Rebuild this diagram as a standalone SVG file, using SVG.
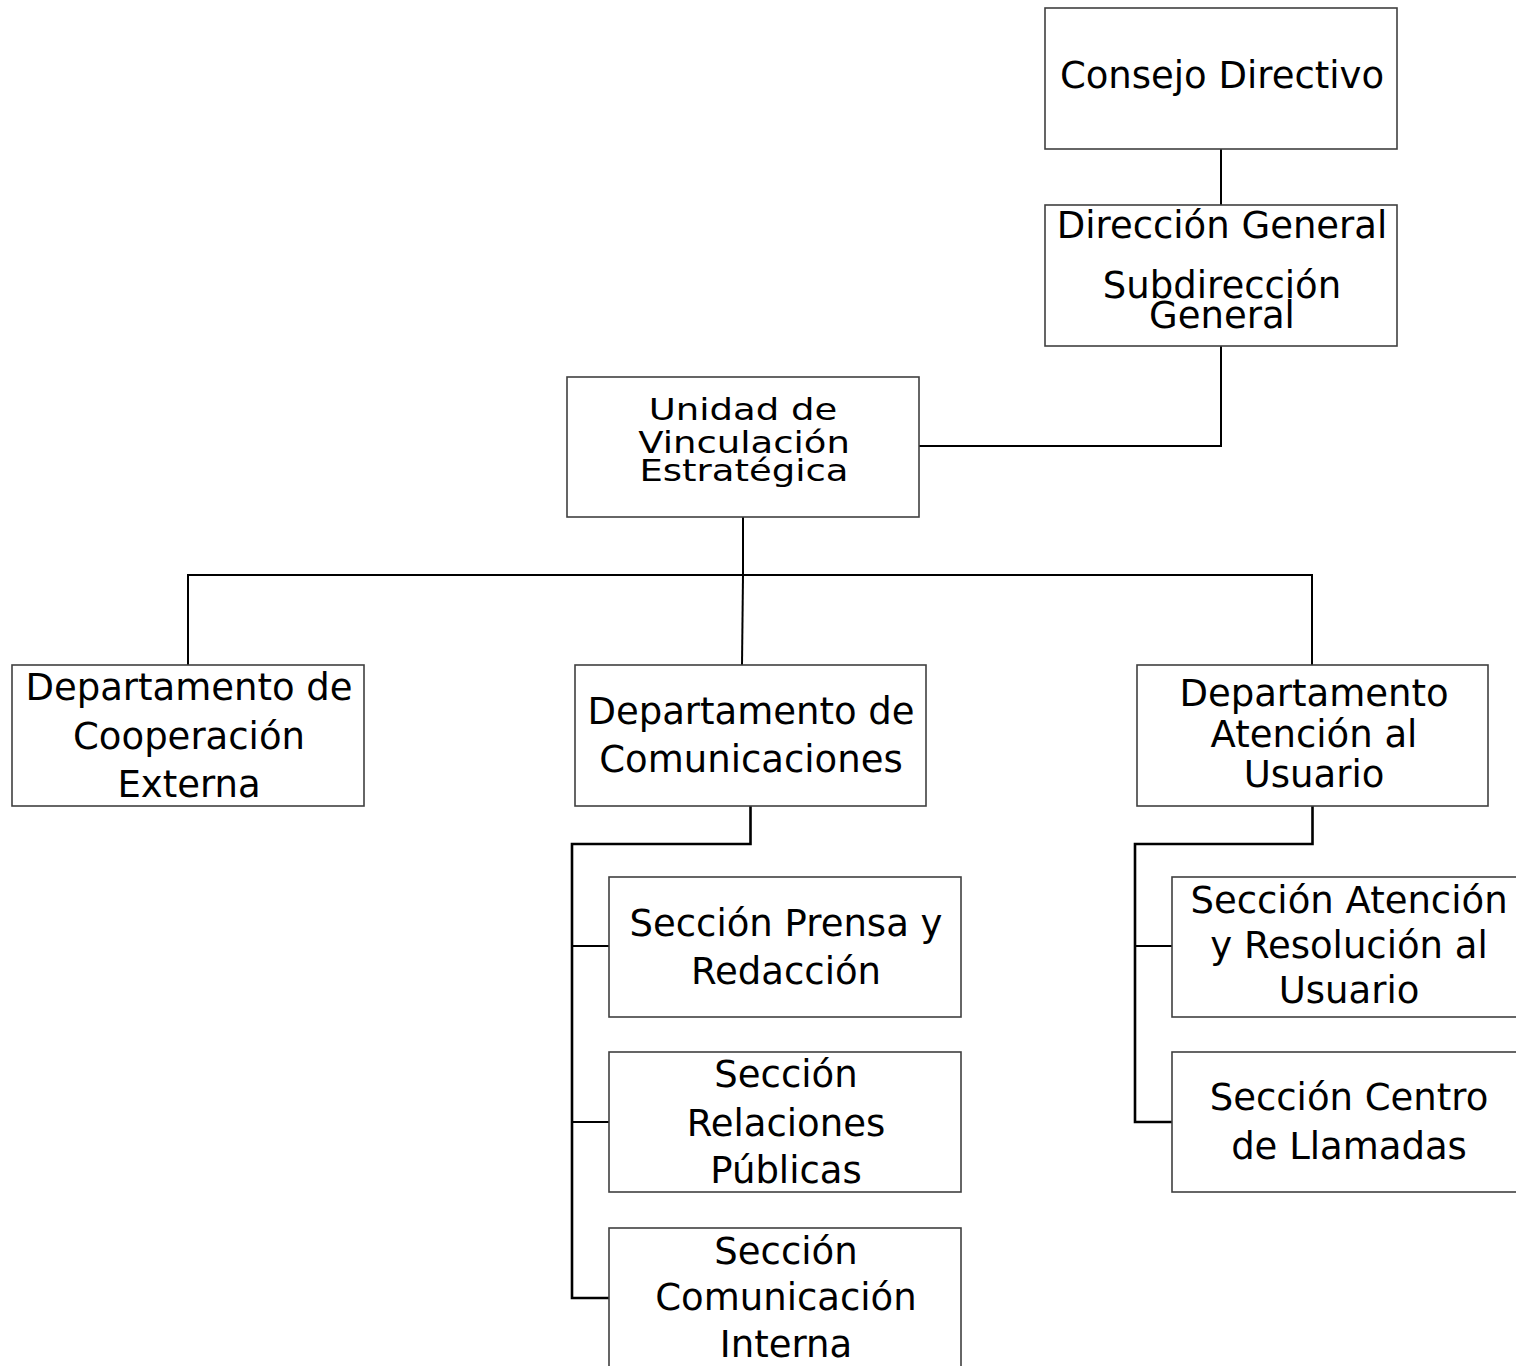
<svg xmlns="http://www.w3.org/2000/svg" width="1516" height="1366" viewBox="0 0 1516 1366">
<style>
  .box { fill: #ffffff; stroke: #404040; stroke-width: 1.6; }
  .t { font-family: "DejaVu Sans", "Liberation Sans", sans-serif; font-size: 37px; fill: #000000; text-anchor: middle; }
  .c { fill: none; stroke: #000000; stroke-width: 2; }
  .c2 { fill: none; stroke: #000000; stroke-width: 2.6; }
</style>
<rect width="1516" height="1366" fill="#ffffff"/>
<g id="connectors">
  <path class="c" d="M1221,149 V205"/>
  <path class="c" d="M1221,346 V446 H919"/>
  <path class="c" d="M743,517 V575"/>
  <path class="c" d="M188,665 V575 H1312 V665"/>
  <path class="c" d="M743,575 L742,665"/>
  <path class="c2" d="M750.5,806 V844 H572 V1298 H609"/>
  <path class="c" d="M572,946 H609"/>
  <path class="c" d="M572,1122 H609"/>
  <path class="c2" d="M1312.5,806 V844 H1135 V1122 H1172"/>
  <path class="c" d="M1135,946 H1172"/>
</g>
<g id="consejo">
  <rect class="box" x="1045" y="8" width="352" height="141"/>
  <text class="t" x="1222" y="88">Consejo Directivo</text>
</g>
<g id="direccion">
  <rect class="box" x="1045" y="205" width="352" height="141"/>
  <text class="t" x="1222" y="238">Dirección General</text>
  <text class="t" x="1222" y="298">Subdirección</text>
  <text class="t" x="1222" y="328">General</text>
</g>
<g id="unidad">
  <rect class="box" x="567" y="377" width="352" height="140"/>
  <text class="t" transform="translate(743,420) scale(1,0.8)" x="0" y="0">Unidad de</text>
  <text class="t" transform="translate(744,453) scale(1,0.8)" x="0" y="0">Vinculación</text>
  <text class="t" transform="translate(744,481) scale(1,0.8)" x="0" y="0">Estratégica</text>
</g>
<g id="dept-cooperacion">
  <rect class="box" x="12" y="665" width="352" height="141"/>
  <text class="t" x="189" y="700">Departamento de</text>
  <text class="t" x="189" y="749">Cooperación</text>
  <text class="t" x="189" y="797">Externa</text>
</g>
<g id="dept-comunicaciones">
  <rect class="box" x="575" y="665" width="351" height="141"/>
  <text class="t" x="751" y="724">Departamento de</text>
  <text class="t" x="751" y="772">Comunicaciones</text>
</g>
<g id="dept-atencion">
  <rect class="box" x="1137" y="665" width="351" height="141"/>
  <text class="t" x="1314" y="706">Departamento</text>
  <text class="t" x="1314" y="747">Atención al</text>
  <text class="t" x="1314" y="787">Usuario</text>
</g>
<g id="sec-prensa">
  <rect class="box" x="609" y="877" width="352" height="140"/>
  <text class="t" x="786" y="936">Sección Prensa y</text>
  <text class="t" x="786" y="984">Redacción</text>
</g>
<g id="sec-relaciones">
  <rect class="box" x="609" y="1052" width="352" height="140"/>
  <text class="t" x="786" y="1087">Sección</text>
  <text class="t" x="786" y="1136">Relaciones</text>
  <text class="t" x="786" y="1183">Públicas</text>
</g>
<g id="sec-interna">
  <rect class="box" x="609" y="1228" width="352" height="150"/>
  <text class="t" x="786" y="1264">Sección</text>
  <text class="t" x="786" y="1310">Comunicación</text>
  <text class="t" x="786" y="1357">Interna</text>
</g>
<g id="sec-atencion">
  <rect class="box" x="1172" y="877" width="360" height="140"/>
  <text class="t" x="1349" y="913">Sección Atención</text>
  <text class="t" x="1349" y="958">y Resolución al</text>
  <text class="t" x="1349" y="1003">Usuario</text>
</g>
<g id="sec-centro">
  <rect class="box" x="1172" y="1052" width="360" height="140"/>
  <text class="t" x="1349" y="1110">Sección Centro</text>
  <text class="t" x="1349" y="1159">de Llamadas</text>
</g>
</svg>
